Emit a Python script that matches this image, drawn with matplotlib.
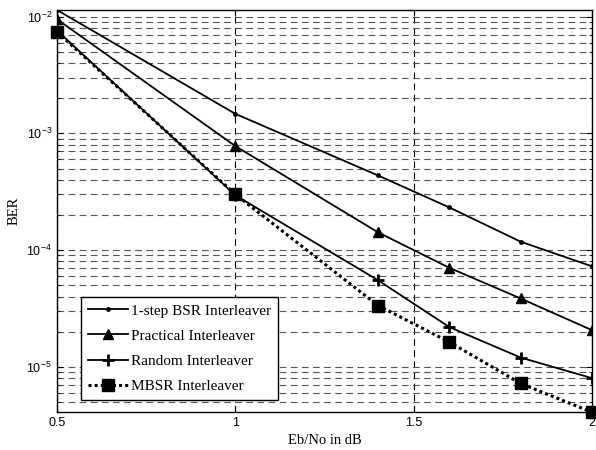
import numpy as np
import matplotlib
matplotlib.use("Agg")
import matplotlib.pyplot as plt
from matplotlib.ticker import LogLocator, FixedLocator, NullFormatter

ebno = [0.5, 1.0, 1.4, 1.6, 1.8, 2.0]
ber_bsr1 = [1.14e-2, 1.47e-3, 4.36e-4, 2.32e-4, 1.18e-4, 7.26e-5]
ber_practical = [9.5e-3, 7.78e-4, 1.42e-4, 7.05e-5, 3.85e-5, 2.06e-5]
ber_random = [7.6e-3, 2.95e-4, 5.52e-5, 2.19e-5, 1.2e-5, 8.0e-6]
ber_mbsr = [7.4e-3, 3.0e-4, 3.35e-5, 1.63e-5, 7.2e-6, 4.08e-6]
labels = ["1-step BSR Interleaver", "Practical Interleaver",
          "Random Interleaver", "MBSR Interleaver"]

serif = ["Liberation Serif", "DejaVu Serif"]
sans = ["Liberation Sans", "DejaVu Sans"]

fig = plt.figure(figsize=(5.96, 4.5), dpi=100)
ax = fig.add_axes([0.0956, 0.0844, 0.8977, 0.8934])

ax.plot(ebno, ber_bsr1, "k-", lw=1.3, marker=".", ms=5, label=labels[0])
ax.plot(ebno, ber_practical, "k-", lw=1.3, marker="^", ms=7.5, label=labels[1])
ax.plot(ebno, ber_random, "k-", lw=1.3, marker="+", ms=8, mew=2, label=labels[2])
ax.plot(ebno, ber_mbsr, "k", ls=(0, (1, 1)), lw=2.2, marker="s", ms=9,
        label=labels[3], clip_on=False)

ax.set_yscale("log")
ax.set_xlim(0.5, 2.0)
ax.set_ylim(4.1e-6, 1.14e-2)

ax.xaxis.set_major_locator(FixedLocator([0.5, 1.0, 1.5, 2.0]))
ax.set_xticklabels(["0.5", "1", "1.5", "2"])
ax.yaxis.set_major_locator(LogLocator(base=10))
ax.yaxis.set_minor_locator(LogLocator(base=10, subs=np.arange(2, 10)))
ax.yaxis.set_minor_formatter(NullFormatter())

ax.grid(True, which="major", axis="x", color="black", ls=(0, (6, 4)), lw=0.8)
ax.grid(True, which="both", axis="y", color="#555555", ls=(0, (6, 4)), lw=0.8)

ax.tick_params(which="both", direction="in", top=True, right=True,
               labelsize=9, length=4)
ax.tick_params(which="minor", length=2.5)
for lbl in ax.get_xticklabels() + ax.get_yticklabels():
    lbl.set_family(sans)

for s in ax.spines.values():
    s.set_linewidth(1.0)

ax.set_xlabel("Eb/No in dB", family=serif, fontsize=10.5)
ax.set_ylabel("BER", family=serif, fontsize=10.5)

leg = ax.legend(loc="lower left", bbox_to_anchor=(0.045, 0.03),
                prop={"family": serif, "size": 11}, handlelength=2.6,
                labelspacing=0.75, fancybox=False, framealpha=1,
                edgecolor="black", borderaxespad=0.0, handletextpad=0.2,
                borderpad=0.45)
leg.get_frame().set_linewidth(1.0)

fig.savefig("out.png", dpi=100)
